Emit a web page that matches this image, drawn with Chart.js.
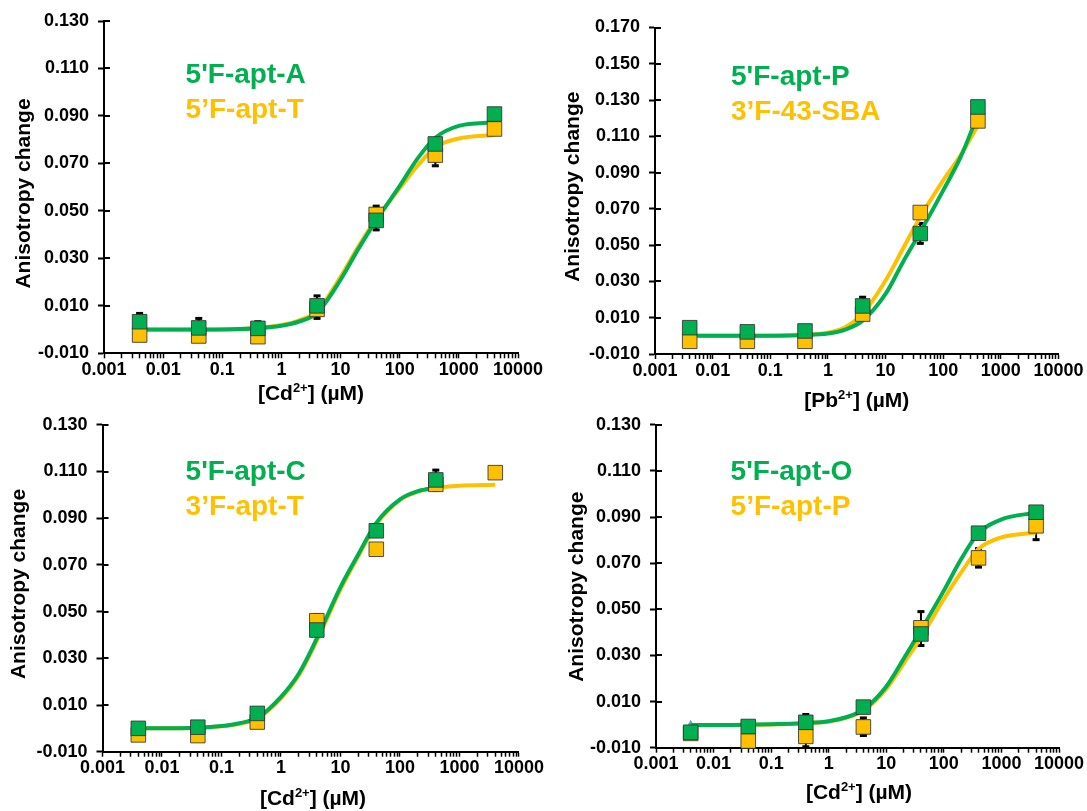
<!DOCTYPE html>
<html>
<head>
<meta charset="utf-8">
<script src="https://cdn.jsdelivr.net/npm/chart.js@4.4.1/dist/chart.umd.min.js"></script>
<style>
  html, body { margin: 0; padding: 0; background: #fff; }
  #wrap { position: relative; width: 1087px; height: 811px; overflow: hidden; background: #fff; }
  canvas { position: absolute; }
</style>
</head>
<body>
<div id="wrap"></div>
<script>
// ---- data ----
const concX = [0.004, 0.04, 0.4, 4, 40, 400, 4000];
const concX6 = [0.004, 0.04, 0.4, 4, 40, 400];

const xDecades = [0.001, 0.01, 0.1, 1, 10, 100, 1000, 10000];
const xTickLabels = ['0.001', '0.01', '0.1', '1', '10', '100', '1000', '10000'];
const xMinorSteps = [1, 2, 3, 4, 5, 6, 7, 8, 9];
const yTicks13 = [-0.010, 0.010, 0.030, 0.050, 0.070, 0.090, 0.110, 0.130];
const yTicks17 = [-0.010, 0.010, 0.030, 0.050, 0.070, 0.090, 0.110, 0.130, 0.150, 0.170];

// top left: 5'F-apt-A / 5'F-apt-T vs Cd
const aptA = [0.0033, 0.0007, 0.0005, 0.0100, 0.0460, 0.0782, 0.0908];
const aptAPlus = [0.0035, 0.0040, 0.0028, 0.0042, 0, 0, 0];
const aptAMinus = [0, 0, 0, 0, 0.0040, 0, 0];
const aptT5 = [-0.0023, -0.0027, -0.0030, 0.0085, 0.0485, 0.0735, 0.0845];
const aptT5Plus = [0, 0, 0, 0, 0.0035, 0, 0];
const aptT5Minus = [0, 0, 0, 0.0038, 0, 0.0045, 0];
const fitXA = [0.004, 0.04, 0.4, 1, 2, 4, 10, 20, 40, 100, 200, 400, 1000, 4000];
const fitA = [0.0000, 0.0000, 0.0006, 0.0016, 0.0034, 0.0070, 0.0210, 0.0340, 0.0460, 0.0605, 0.0720, 0.0808, 0.0858, 0.0873];
const fitT5 = [-0.0001, -0.0001, 0.0007, 0.0019, 0.0039, 0.0078, 0.0222, 0.0350, 0.0465, 0.0595, 0.0690, 0.0768, 0.0805, 0.0820];

// top right: 5'F-apt-P / 3'F-43-SBA vs Pb
const aptP = [0.0045, 0.0022, 0.0027, 0.0165, 0.0564, 0.1262];
const aptPPlus = [0, 0, 0, 0.0048, 0.0056, 0];
const aptPMinus = [0, 0, 0, 0, 0.0054, 0];
const sba43 = [-0.0030, -0.0030, -0.0030, 0.0120, 0.0680, 0.1185];
const sba43Plus = [0, 0, 0, 0, 0, 0];
const sba43Minus = [0, 0, 0, 0, 0, 0];
const fitXP = [0.004, 0.04, 0.4, 1, 2, 4, 10, 20, 40, 100, 200, 400];
const fitP = [0.0000, 0.0000, 0.0005, 0.0013, 0.0035, 0.0084, 0.0231, 0.0406, 0.0572, 0.0802, 0.0985, 0.1220];
const fitSBA = [0.0000, 0.0000, 0.0007, 0.0018, 0.0048, 0.0121, 0.0305, 0.0480, 0.0655, 0.0857, 0.0995, 0.1160];

// bottom left: 5'F-apt-C / 3'F-apt-T vs Cd
const aptC = [0.0000, 0.0005, 0.0064, 0.0421, 0.0846, 0.1064];
const aptCPlus = [0, 0, 0, 0, 0, 0.0042];
const aptCMinus = [0, 0, 0, 0, 0, 0.0045];
const aptT3 = [-0.0028, -0.0031, 0.0027, 0.0461, 0.0767, 0.1045, 0.1095];
const aptT3Plus = [0, 0, 0, 0.0025, 0, 0, 0];
const aptT3Minus = [0, 0, 0, 0, 0, 0, 0];
const fitXC = [0.004, 0.04, 0.1, 0.2, 0.4, 1, 2, 4, 10, 20, 40, 100, 200, 400];
const fitC = [0.0000, 0.0003, 0.0010, 0.0022, 0.0045, 0.0135, 0.0235, 0.0385, 0.0605, 0.0746, 0.0880, 0.0981, 0.1016, 0.1030];
const fitXT3 = [0.004, 0.04, 0.1, 0.2, 0.4, 1, 2, 4, 10, 20, 40, 100, 200, 400, 1000, 4000];
const fitT3 = [0.0000, 0.0002, 0.0009, 0.0020, 0.0042, 0.0128, 0.0228, 0.0375, 0.0595, 0.0738, 0.0873, 0.0978, 0.1014, 0.1030, 0.1039, 0.1043];

// bottom right: 5'F-apt-O / 5'F-apt-P vs Cd
const aptO = [-0.0033, -0.0008, 0.0010, 0.0076, 0.0393, 0.0830, 0.0921];
const aptOPlus = [0, 0, 0.0034, 0, 0, 0, 0];
const aptOMinus = [0, 0, 0, 0, 0.0050, 0, 0];
const aptP5 = [-0.0038, -0.0071, -0.0051, -0.0010, 0.0420, 0.0723, 0.0862];
const aptP5Plus = [0, 0, 0, 0.0039, 0.0070, 0.0040, 0];
const aptP5Minus = [0, 0, 0.0045, 0.0037, 0, 0.0040, 0.0060];
const fitXO = [0.004, 0.04, 0.4, 1, 2, 4, 10, 20, 40, 100, 200, 400, 1000, 4000];
const fitO = [-0.0002, 0.0000, 0.0007, 0.0015, 0.0032, 0.0065, 0.0165, 0.0285, 0.0410, 0.0581, 0.0718, 0.0830, 0.0890, 0.0919];
const fitP5 = [-0.0003, -0.0001, 0.0006, 0.0014, 0.0030, 0.0060, 0.0155, 0.0265, 0.0378, 0.0545, 0.0660, 0.0762, 0.0812, 0.0833];
const strayX = [0.004];
const strayY = [-0.0005];

// ---- styling ----
const GREEN = '#00B050';
const YELLOW = '#FFC000';
const EDGE = 'rgba(50,50,50,0.85)';
const FONT = '"Liberation Sans", Arial, Helvetica, sans-serif';

Chart.defaults.font.family = FONT;
Chart.defaults.color = '#000';

const xTickValues = [];
xDecades.slice(0, -1).forEach(d => xMinorSteps.forEach(m => xTickValues.push(d * m)));
xTickValues.push(10000);

const errorBars = {
  id: 'errorBars',
  beforeDatasetsDraw(chart) {
    const ctx = chart.ctx, xs = chart.scales.x, ys = chart.scales.y;
    ctx.save();
    ctx.fillStyle = '#000';
    ctx.strokeStyle = '#000';
    ctx.lineWidth = 2;
    chart.data.datasets.forEach(ds => {
      if (!ds.errPlus) return;
      ds.data.forEach((p, i) => {
        const px = xs.getPixelForValue(p.x);
        const py = ys.getPixelForValue(p.y);
        [[ds.errPlus[i], 1], [ds.errMinus[i], -1]].forEach(([e, s]) => {
          if (!e) return;
          const ey = ys.getPixelForValue(p.y + s * e);
          ctx.beginPath();
          ctx.moveTo(px, py);
          ctx.lineTo(px, ey);
          ctx.stroke();
          ctx.fillRect(px - 3.5, ey - 1.5, 7, 3);
        });
      });
    });
    ctx.restore();
  }
};

const crossTicks = {
  id: 'crossTicks',
  afterDraw(chart) {
    const ctx = chart.ctx, ys = chart.scales.y, a = chart.chartArea;
    ctx.save();
    ctx.strokeStyle = '#000';
    ctx.lineWidth = 2;
    ys.ticks.forEach(t => {
      const y = Math.round(ys.getPixelForValue(t.value));
      ctx.beginPath();
      ctx.moveTo(a.left, y);
      ctx.lineTo(a.left + 6, y);
      ctx.stroke();
    });
    ctx.restore();
  }
};

const panelText = {
  id: 'panelText',
  afterDraw(chart, args, o) {
    const ctx = chart.ctx;
    ctx.save();
    ctx.textBaseline = 'middle';
    ctx.textAlign = 'left';
    ctx.font = 'bold 28px ' + FONT;
    o.legend.forEach(l => {
      ctx.fillStyle = l.color;
      ctx.fillText(l.text, l.x - o.left, l.y - o.top);
    });

    ctx.fillStyle = '#000';
    // x title with superscript
    const big = 'bold 21px ' + FONT, small = 'bold 13px ' + FONT;
    const [pre, sup, post] = o.xTitle.parts;
    ctx.font = big;
    const w1 = ctx.measureText(pre).width, w3 = ctx.measureText(post).width;
    ctx.font = small;
    const w2 = ctx.measureText(sup).width;
    let x = o.xTitle.x - o.left - (w1 + w2 + w3) / 2;
    const y = o.xTitle.y - o.top;
    ctx.font = big; ctx.fillText(pre, x, y); x += w1;
    ctx.font = small; ctx.fillText(sup, x, y - 6); x += w2;
    ctx.font = big; ctx.fillText(post, x, y);

    // y title
    ctx.translate(o.yTitle.x - o.left, o.yTitle.y - o.top);
    ctx.rotate(-Math.PI / 2);
    ctx.textAlign = 'center';
    ctx.font = big;
    ctx.fillText('Anisotropy change', 0, 0);
    ctx.restore();
  }
};

const pts = (xs, ys) => xs.map((x, i) => ({ x: x, y: ys[i] }));

function buildPanel(p) {
  const [L, T, W, H] = p.box;
  const [al, at, ar, ab] = p.area;
  const cv = document.createElement('canvas');
  cv.width = W; cv.height = H;
  cv.style.left = L + 'px'; cv.style.top = T + 'px';
  cv.style.width = W + 'px'; cv.style.height = H + 'px';
  document.getElementById('wrap').appendChild(cv);

  const datasets = [
    { type: 'scatter', data: pts(p.greenX, p.green), errPlus: p.greenPlus, errMinus: p.greenMinus,
      showLine: false, pointStyle: 'rect', pointRadius: 10.3, backgroundColor: GREEN,
      borderColor: EDGE, borderWidth: 1, clip: false },
    { type: 'scatter', data: pts(p.yellowX, p.yellow), errPlus: p.yellowPlus, errMinus: p.yellowMinus,
      showLine: false, pointStyle: 'rect', pointRadius: 10.3, backgroundColor: YELLOW,
      borderColor: EDGE, borderWidth: 1, clip: false },
    { type: 'line', data: pts(p.fitGreenX, p.fitGreen), showLine: true, borderColor: GREEN,
      borderWidth: 4, pointRadius: 0, cubicInterpolationMode: 'monotone', fill: false, clip: false },
    { type: 'line', data: pts(p.fitYellowX, p.fitYellow), showLine: true, borderColor: YELLOW,
      borderWidth: 4, pointRadius: 0, cubicInterpolationMode: 'monotone', fill: false, clip: false }
  ];
  if (p.stray) {
    datasets.push({ type: 'scatter', data: pts(strayX, strayY), showLine: false, pointStyle: 'triangle',
      pointRadius: 6, backgroundColor: '#6A9FD8', borderWidth: 0, clip: false });
  }

  new Chart(cv, {
    type: 'scatter',
    data: { datasets: datasets },
    options: {
      responsive: false,
      animation: false,
      events: [],
      layout: { padding: { left: 0, top: at - T, right: L + W - ar, bottom: 0 } },
      plugins: {
        legend: { display: false },
        tooltip: { enabled: false },
        panelText: { left: L, top: T, legend: p.legend, xTitle: p.xTitle, yTitle: p.yTitle }
      },
      scales: {
        x: {
          type: 'logarithmic',
          position: 'bottom',
          min: 0.001,
          max: 10000,
          afterBuildTicks: s => { s.ticks = xTickValues.map(v => ({ value: v })); },
          afterFit: s => { s.height = T + H - ab; },
          grid: { display: true, drawOnChartArea: false, drawTicks: true, tickLength: 5,
                  tickWidth: 1.5, tickColor: '#000' },
          border: { display: true, color: '#000', width: 2 },
          ticks: {
            autoSkip: false, maxRotation: 0, minRotation: 0, padding: 1,
            font: { size: 18, weight: 'bold' }, color: '#000',
            callback: v => { const i = xDecades.indexOf(v); return i >= 0 ? xTickLabels[i] : ''; }
          }
        },
        y: {
          type: 'linear',
          min: -0.010,
          max: p.yTicks[p.yTicks.length - 1],
          afterBuildTicks: s => { s.ticks = p.yTicks.map(v => ({ value: v })); },
          afterFit: s => { s.width = al - L; },
          grid: { display: true, drawOnChartArea: false, drawTicks: true, tickLength: 6,
                  tickWidth: 2, tickColor: '#000' },
          border: { display: true, color: '#000', width: 2 },
          ticks: {
            padding: 9, font: { size: 18, weight: 'bold' }, color: '#000',
            callback: v => v.toFixed(3)
          }
        }
      }
    },
    plugins: [errorBars, crossTicks, panelText]
  });
}

buildPanel({
  box: [0, 0, 545, 405], area: [104, 21, 518, 353.3], yTicks: yTicks13,
  greenX: concX, green: aptA, greenPlus: aptAPlus, greenMinus: aptAMinus,
  yellowX: concX, yellow: aptT5, yellowPlus: aptT5Plus, yellowMinus: aptT5Minus,
  fitGreenX: fitXA, fitGreen: fitA, fitYellowX: fitXA, fitYellow: fitT5,
  legend: [{ text: "5'F-apt-A", color: GREEN, x: 185.6, y: 75 },
           { text: '5\u2019F-apt-T', color: YELLOW, x: 185.6, y: 110 }],
  xTitle: { parts: ['[Cd', '2+', '] (\u00b5M)'], x: 311, y: 394 },
  yTitle: { x: 24.6, y: 193.5 }
});

buildPanel({
  box: [545, 0, 542, 420], area: [655, 27.5, 1058.5, 354], yTicks: yTicks17,
  greenX: concX6, green: aptP, greenPlus: aptPPlus, greenMinus: aptPMinus,
  yellowX: concX6, yellow: sba43, yellowPlus: sba43Plus, yellowMinus: sba43Minus,
  fitGreenX: fitXP, fitGreen: fitP, fitYellowX: fitXP, fitYellow: fitSBA,
  legend: [{ text: "5'F-apt-P", color: GREEN, x: 731, y: 77.5 },
           { text: '3\u2019F-43-SBA', color: YELLOW, x: 731, y: 112.2 }],
  xTitle: { parts: ['[Pb', '2+', '] (\u00b5M)'], x: 856.8, y: 401 },
  yTitle: { x: 573, y: 186.7 }
});

buildPanel({
  box: [0, 405, 545, 406], area: [102.5, 415, 520, 751.7], yTicks: yTicks13,
  greenX: concX6, green: aptC, greenPlus: aptCPlus, greenMinus: aptCMinus,
  yellowX: concX, yellow: aptT3, yellowPlus: aptT3Plus, yellowMinus: aptT3Minus,
  fitGreenX: fitXC, fitGreen: fitC, fitYellowX: fitXT3, fitYellow: fitT3,
  legend: [{ text: "5'F-apt-C", color: GREEN, x: 185.6, y: 472.5 },
           { text: '3\u2019F-apt-T', color: YELLOW, x: 185.6, y: 507.5 }],
  xTitle: { parts: ['[Cd', '2+', '] (\u00b5M)'], x: 313, y: 799 },
  yTitle: { x: 19.5, y: 584 }
});

buildPanel({
  box: [545, 405, 542, 406], area: [656, 421, 1059, 747.7], yTicks: yTicks13,
  greenX: concX, green: aptO, greenPlus: aptOPlus, greenMinus: aptOMinus,
  yellowX: concX, yellow: aptP5, yellowPlus: aptP5Plus, yellowMinus: aptP5Minus,
  fitGreenX: fitXO, fitGreen: fitO, fitYellowX: fitXO, fitYellow: fitP5,
  stray: true,
  legend: [{ text: "5'F-apt-O", color: GREEN, x: 730.6, y: 472.5 },
           { text: '5\u2019F-apt-P', color: YELLOW, x: 730.6, y: 507.5 }],
  xTitle: { parts: ['[Cd', '2+', '] (\u00b5M)'], x: 859, y: 793 },
  yTitle: { x: 576.8, y: 586.7 }
});
</script>
</body>
</html>
